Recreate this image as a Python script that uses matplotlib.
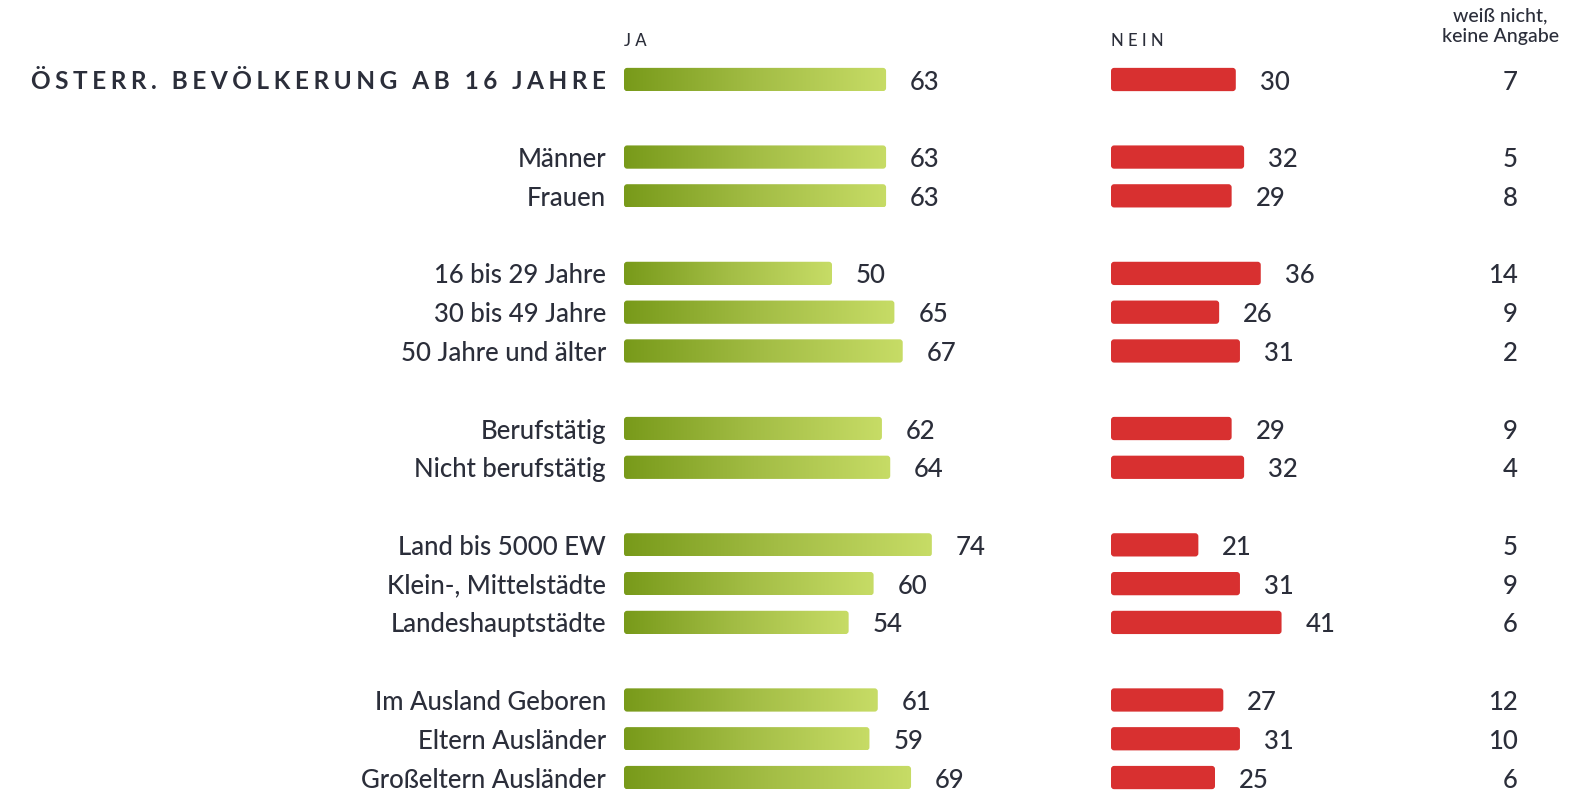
import matplotlib
matplotlib.use("Agg")
import matplotlib.pyplot as plt
import numpy as np
from matplotlib.patches import FancyBboxPatch
from matplotlib.colors import LinearSegmentedColormap
import matplotlib.transforms as mtransforms

plt.rcParams['font.family'] = ['Lato', 'DejaVu Sans']

categories = ["ÖSTERR. BEVÖLKERUNG AB 16 JAHRE",
              "Männer", "Frauen",
              "16 bis 29 Jahre", "30 bis 49 Jahre", "50 Jahre und älter",
              "Berufstätig", "Nicht berufstätig",
              "Land bis 5000 EW", "Klein-, Mittelstädte", "Landeshauptstädte",
              "Im Ausland Geboren", "Eltern Ausländer", "Großeltern Ausländer"]
ja = [63, 63, 63, 50, 65, 67, 62, 64, 74, 60, 54, 61, 59, 69]
nein = [30, 32, 29, 36, 26, 31, 29, 32, 21, 31, 41, 27, 31, 25]
weiss = [7, 5, 8, 14, 9, 2, 9, 4, 5, 9, 6, 12, 10, 6]
positions = [0, 2, 3, 5, 6, 7, 9, 10, 12, 13, 14, 16, 17, 18]

W, H = 1576, 794
fig = plt.figure(figsize=(W / 100, H / 100), dpi=100)
fig.patch.set_facecolor("white")

TEXT = "#2b2e3a"
px_per_unit = 4.16
slot = 38.78
y0 = 79.5
ylim = ((H - y0) / slot, -y0 / slot)

def make_ax(left_px):
    ax = fig.add_axes([left_px / W, 0, 100 * px_per_unit / W, 1])
    ax.set_xlim(0, 100)
    ax.set_ylim(*ylim)
    ax.axis("off")
    ax.patch.set_alpha(0)
    return ax

ax_ja = make_ax(624)
ax_nein = make_ax(1111)

green_cmap = LinearSegmentedColormap.from_list("g", ["#789a1a", "#a3bd45", "#c7dc66"])
bar_h = 0.6
mut_aspect = px_per_unit / slot
rsize = 0.75

def draw_bars(ax, vals, color=None, cmap=None):
    bars = ax.barh(positions, vals, height=bar_h, color="none")
    for b in bars:
        x, y, w, h = b.get_x(), b.get_y(), b.get_width(), b.get_height()
        patch = FancyBboxPatch((x, y), w, h,
                               boxstyle=f"round,pad=0,rounding_size={rsize}",
                               mutation_aspect=mut_aspect,
                               facecolor=color if color else "none",
                               edgecolor="none", zorder=2)
        ax.add_patch(patch)
        if cmap is not None:
            grad = np.linspace(0, 1, 256).reshape(1, -1)
            grad = np.vstack([grad, grad])
            im = ax.imshow(grad, cmap=cmap, aspect="auto",
                           extent=(x, x + w, y + h, y), zorder=3,
                           interpolation="bilinear")
            im.set_clip_path(patch)
    return bars

draw_bars(ax_ja, ja, cmap=green_cmap)
draw_bars(ax_nein, nein, color="#d83030")
ax_ja.set_xlim(0, 100); ax_ja.set_ylim(*ylim)

fs = 18.5
for ax, vals in ((ax_ja, ja), (ax_nein, nein)):
    off = mtransforms.offset_copy(ax.transData, fig=fig, x=24, y=0, units="dots")
    for p, v in zip(positions, vals):
        ax.text(v, p, str(v), transform=off, ha="left", va="center_baseline",
                fontsize=fs, color=TEXT, fontweight="medium")

# weiß nicht column
for p, v in zip(positions, weiss):
    ax_nein.text(97.8, p, str(v), ha="right", va="center_baseline", fontsize=fs,
                 color=TEXT, fontweight="medium")

# category labels
lab_off = mtransforms.offset_copy(ax_ja.transData, fig=fig, x=-18, y=0, units="dots")
for i, (p, c) in enumerate(zip(positions, categories)):
    if i == 0:
        spaced = "\u2009\u200a".join(c)
        ax_ja.text(0, p, spaced, transform=lab_off, ha="right", va="center_baseline",
                   fontsize=17.6, fontweight="bold", color=TEXT)
    else:
        ax_ja.text(0, p, c, transform=lab_off, ha="right", va="center_baseline",
                   fontsize=fs, color=TEXT, fontweight="medium")

# headers
ax_ja.text(0, -0.98, "J\u2009\u2009A", ha="left", va="center", fontsize=12, color=TEXT,
           fontweight="medium")
ax_nein.text(0, -0.98, "N\u2009\u2009E\u2009\u2009I\u2009\u2009N", ha="left", va="center",
             fontsize=12, color=TEXT, fontweight="medium")
ax_nein.text(93.6, -1.37, "weiß nicht,\nkeine Angabe", ha="center", va="center",
             fontsize=14, color=TEXT, linespacing=1.3, fontweight="medium")

fig.savefig("out.png", dpi=100, facecolor="white")
